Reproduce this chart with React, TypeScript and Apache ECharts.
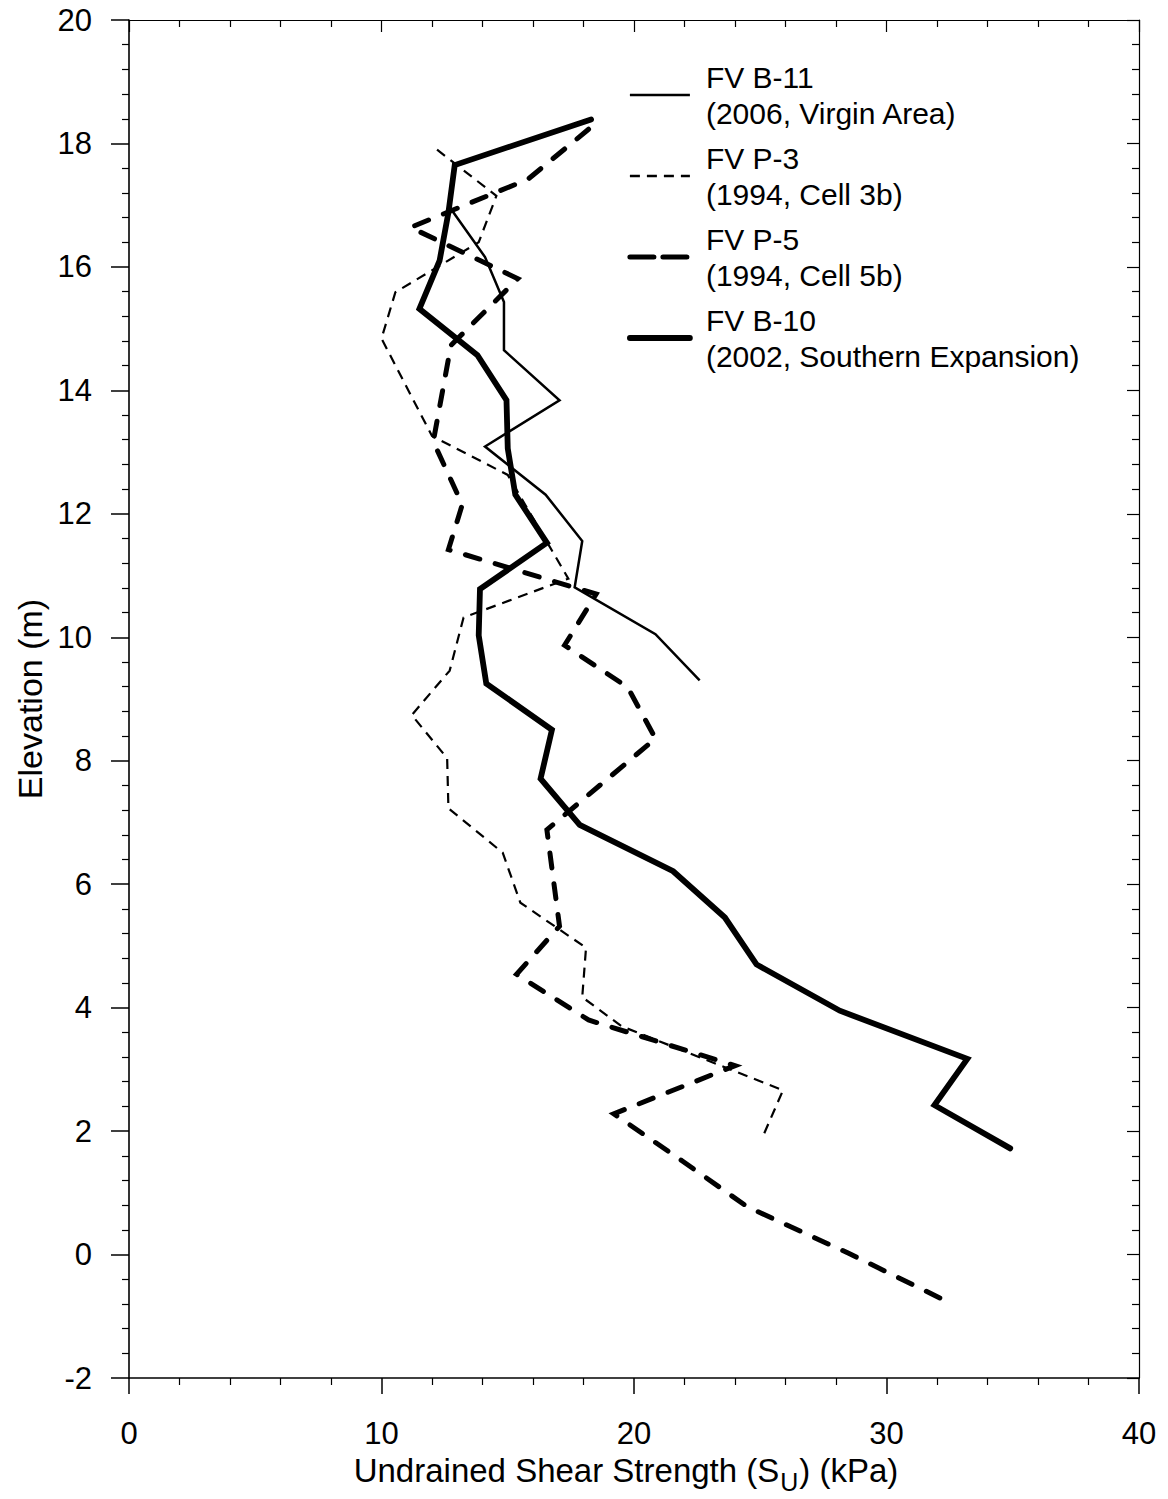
import React, { useEffect, useRef } from "react";
import * as echarts from "echarts";

// ---- Data ----
// FV B-11 (2006, Virgin Area) - thin solid
const b11Su = [12.8, 14.1, 14.85, 14.85, 17.05, 14.1, 16.5, 17.95, 17.65, 20.85, 22.6];
const b11Elev = [16.91, 16.16, 15.43, 14.65, 13.84, 13.09, 12.31, 11.56, 10.81, 10.05, 9.3];

// FV P-3 (1994, Cell 3b) - thin dashed
const p3Su = [12.2, 14.55, 13.85, 10.55, 10.0, 12.0, 15.0, 17.4, 13.25, 12.7, 11.2, 12.6, 12.65, 14.8, 15.5, 18.1, 17.95, 19.5, 25.9, 25.1];
const p3Elev = [17.9, 17.15, 16.4, 15.59, 14.84, 13.26, 12.63, 10.95, 10.32, 9.46, 8.74, 8.04, 7.23, 6.51, 5.7, 4.97, 4.17, 3.7, 2.66, 1.91];

// FV P-5 (1994, Cell 5b) - thick dashed
const p5Su = [18.2, 15.8, 11.15, 15.4, 12.75, 12.05, 13.2, 12.65, 18.5, 17.25, 19.75, 20.85, 16.55, 17.05, 15.35, 18.2, 24.0, 19.2, 21.9, 24.5, 28.5, 32.5];
const p5Elev = [18.23, 17.42, 16.64, 15.81, 14.73, 13.17, 12.15, 11.42, 10.7, 9.87, 9.19, 8.36, 6.88, 5.32, 4.54, 3.8, 3.06, 2.28, 1.52, 0.77, 0.02, -0.78];

// FV B-10 (2002, Southern Expansion) - thick solid
const b10Su = [18.3, 12.9, 12.65, 12.3, 11.5, 13.8, 14.95, 15.0, 15.3, 16.55, 13.9, 13.85, 14.15, 16.75, 16.3, 17.85, 21.55, 23.6, 24.85, 28.15, 33.2, 31.9, 34.9];
const b10Elev = [18.39, 17.65, 16.88, 16.1, 15.32, 14.57, 13.84, 13.06, 12.31, 11.53, 10.78, 10.03, 9.25, 8.5, 7.71, 6.96, 6.21, 5.46, 4.7, 3.95, 3.17, 2.42, 1.72];

const seriesNames = [
  "FV B-11\n(2006, Virgin Area)",
  "FV P-3\n(1994, Cell 3b)",
  "FV P-5\n(1994, Cell 5b)",
  "FV B-10\n(2002, Southern Expansion)",
];

const xMin = 0;
const xMax = 40;
const xStep = 10;
const yMin = -2;
const yMax = 20;
const yStep = 2;

const xTitle = "{a|Undrained Shear Strength (S}{sub|U}{a|) (kPa)}";
const yTitle = "Elevation (m)";

const zip = (xs: number[], ys: number[]) => xs.map((x, i) => [x, ys[i]]);

const SANS = "'Liberation Sans', Arial, Helvetica, sans-serif";

export default function App() {
  const ref = useRef<HTMLDivElement>(null);

  useEffect(() => {
    if (!ref.current) return;
    const chart = echarts.init(ref.current, undefined, { renderer: "svg" });

    const axisLineStyle = { color: "#000", width: 1.6 };
    const styles = [
      { width: 2.5, type: "solid" as any, cap: "butt" as any },
      { width: 2.2, type: [10, 7] as any, cap: "butt" as any },
      { width: 5, type: [15, 16] as any, cap: "round" as any },
      { width: 5.8, type: "solid" as any, cap: "round" as any },
    ];
    const legendStyles = [
      { width: 2.5, type: "solid" },
      { width: 2.4, type: [10, 7] },
      { width: 5, type: [24, 9] },
      { width: 5.8, type: "solid" },
    ];
    const datasets = [
      zip(b11Su, b11Elev),
      zip(p3Su, p3Elev),
      zip(p5Su, p5Elev),
      zip(b10Su, b10Elev),
    ];

    chart.setOption({
      animation: false,
      backgroundColor: "#fff",
      grid: { left: 129, right: 29, top: 20, bottom: 115, containLabel: false },
      legend: {
        orient: "vertical",
        left: 622,
        top: 54,
        itemWidth: 60,
        itemHeight: 14,
        itemGap: 9,
        selectedMode: false,
        textStyle: {
          fontFamily: SANS,
          fontSize: 30,
          lineHeight: 36,
          color: "#000",
          padding: [0, 0, 0, 11],
        },
        data: seriesNames.map((n, i) => ({
          name: n,
          lineStyle: { color: "#000", ...legendStyles[i] },
          itemStyle: { color: "#000", opacity: 0 },
        })),
      },
      xAxis: [
        {
          type: "value",
          position: "bottom",
          min: xMin,
          max: xMax,
          interval: xStep,
          splitLine: { show: false },
          axisLine: { show: true, onZero: false, lineStyle: axisLineStyle },
          axisTick: { show: true, inside: false, length: 16, lineStyle: { color: "#000", width: 1.5 } },
          minorTick: { show: true, splitNumber: 5, length: 7, lineStyle: { color: "#000", width: 1.2 } },
          axisLabel: { fontFamily: SANS, fontSize: 31, color: "#000", margin: 40 },
          name: xTitle,
          nameLocation: "middle",
          nameGap: 76,
          nameTextStyle: {
            fontFamily: SANS,
            color: "#000",
            padding: [0, 16, 0, 0],
            rich: {
              a: { fontFamily: SANS, fontSize: 33, verticalAlign: "top", color: "#000" },
              sub: { fontFamily: SANS, fontSize: 25, verticalAlign: "top", padding: [15, 1, 0, 1], color: "#000" },
            },
          },
        },
        {
          type: "value",
          position: "top",
          min: xMin,
          max: xMax,
          interval: xStep,
          splitLine: { show: false },
          axisLine: { show: true, onZero: false, lineStyle: { color: "#000", width: 1.2 } },
          axisTick: { show: true, inside: true, length: 12, lineStyle: { color: "#000", width: 1.2 } },
          minorTick: { show: true, splitNumber: 5, length: 7, lineStyle: { color: "#000", width: 1.2 } },
          axisLabel: { show: false },
        },
      ],
      yAxis: [
        {
          type: "value",
          position: "left",
          min: yMin,
          max: yMax,
          interval: yStep,
          splitLine: { show: false },
          axisLine: { show: true, onZero: false, lineStyle: axisLineStyle },
          axisTick: { show: true, inside: false, length: 18, lineStyle: { color: "#000", width: 1.5 } },
          minorTick: { show: true, splitNumber: 5, length: 7, lineStyle: { color: "#000", width: 1.2 } },
          axisLabel: { fontFamily: SANS, fontSize: 31, color: "#000", margin: 37 },
          name: yTitle,
          nameLocation: "middle",
          nameGap: 82,
          nameTextStyle: { fontFamily: SANS, fontSize: 34, color: "#000" },
        },
        {
          type: "value",
          position: "right",
          min: yMin,
          max: yMax,
          interval: yStep,
          splitLine: { show: false },
          axisLine: { show: true, onZero: false, lineStyle: { color: "#000", width: 1.2 } },
          axisTick: { show: true, inside: true, length: 12, lineStyle: { color: "#000", width: 1.2 } },
          minorTick: { show: true, splitNumber: 5, length: 7, lineStyle: { color: "#000", width: 1.2 } },
          axisLabel: { show: false },
        },
      ],
      series: datasets.map((d, i) => ({
        name: seriesNames[i],
        type: "line",
        xAxisIndex: 0,
        yAxisIndex: 0,
        data: d,
        symbol: "none",
        showSymbol: false,
        smooth: false,
        clip: true,
        lineStyle: { color: "#000", join: "miter", ...styles[i] },
        itemStyle: { color: "#000" },
        emphasis: { disabled: true },
      })),
    });

    return () => chart.dispose();
  }, []);

  return (
    <div
      ref={ref}
      style={{ position: "absolute", left: 0, top: 0, width: 1168, height: 1499, background: "#fff" }}
    />
  );
}
